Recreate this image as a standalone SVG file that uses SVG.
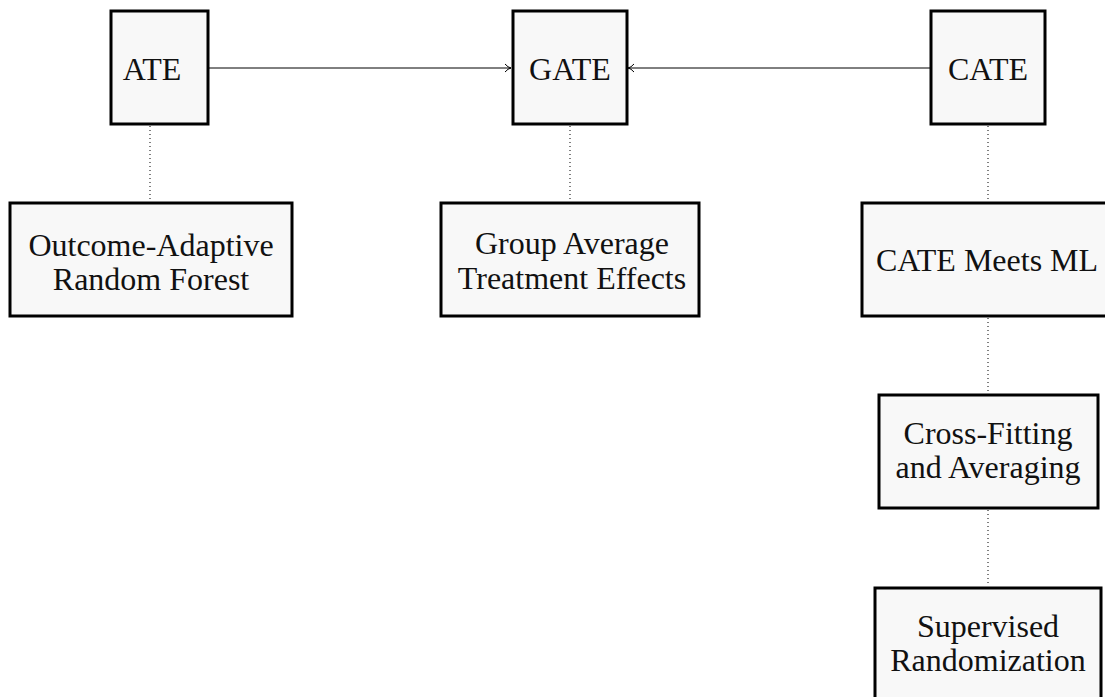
<svg xmlns="http://www.w3.org/2000/svg" width="1105" height="697" viewBox="0 0 1105 697">
  <defs>
    <style>
      .box { fill: #f8f8f8; stroke: #000; stroke-width: 3; }
      .lbl { font-family: "Liberation Serif", "DejaVu Serif", serif; font-size: 32px; fill: #111; text-anchor: middle; }
      .link { stroke: #000; stroke-width: 1; fill: none; }
      .dot { stroke: #000; stroke-width: 1; stroke-dasharray: 1 3; fill: none; }
    </style>
    <marker id="arr" viewBox="0 0 10 10" refX="9" refY="5" markerWidth="10" markerHeight="10" markerUnits="userSpaceOnUse" orient="auto">
      <path d="M3,1 Q6,4.5 9,5 Q6,5.5 3,9" fill="none" stroke="#000" stroke-width="1"/>
    </marker>
  </defs>
  <rect width="1105" height="697" fill="#ffffff"/>

  <!-- connectors -->
  <g id="connectors">
    <line class="link" x1="209" y1="68" x2="511" y2="68" marker-end="url(#arr)"/>
    <line class="link" x1="930" y1="68" x2="628" y2="68" marker-end="url(#arr)"/>
    <line class="dot" x1="150" y1="126" x2="150" y2="200"/>
    <line class="dot" x1="570" y1="126" x2="570" y2="200"/>
    <line class="dot" x1="988" y1="126" x2="988" y2="200"/>
    <line class="dot" x1="988" y1="318" x2="988" y2="393"/>
    <line class="dot" x1="988" y1="510" x2="988" y2="585"/>
  </g>

  <g id="ate">
    <rect class="box" x="111" y="11" width="97" height="113"/>
    <text class="lbl" x="152" y="80">ATE</text>
  </g>
  <g id="gate">
    <rect class="box" x="513" y="11" width="114" height="113"/>
    <text class="lbl" x="570" y="80">GATE</text>
  </g>
  <g id="cate">
    <rect class="box" x="931" y="11" width="114" height="113"/>
    <text class="lbl" x="988" y="80">CATE</text>
  </g>
  <g id="oarf">
    <rect class="box" x="10" y="203" width="282" height="113"/>
    <text class="lbl" x="151" y="256">Outcome-Adaptive</text>
    <text class="lbl" x="151" y="290">Random Forest</text>
  </g>
  <g id="gates">
    <rect class="box" x="441" y="203" width="258" height="113"/>
    <text class="lbl" x="572" y="254">Group Average</text>
    <text class="lbl" x="572" y="289">Treatment Effects</text>
  </g>
  <g id="cateml">
    <rect class="box" x="862" y="203" width="252" height="113"/>
    <text class="lbl" x="987" y="271">CATE Meets ML</text>
  </g>
  <g id="crossfit">
    <rect class="box" x="879" y="395" width="219" height="113"/>
    <text class="lbl" x="988" y="444">Cross-Fitting</text>
    <text class="lbl" x="988" y="478">and Averaging</text>
  </g>
  <g id="suprand">
    <rect class="box" x="875" y="588" width="226" height="113"/>
    <text class="lbl" x="988" y="637">Supervised</text>
    <text class="lbl" x="988" y="671">Randomization</text>
  </g>
</svg>
